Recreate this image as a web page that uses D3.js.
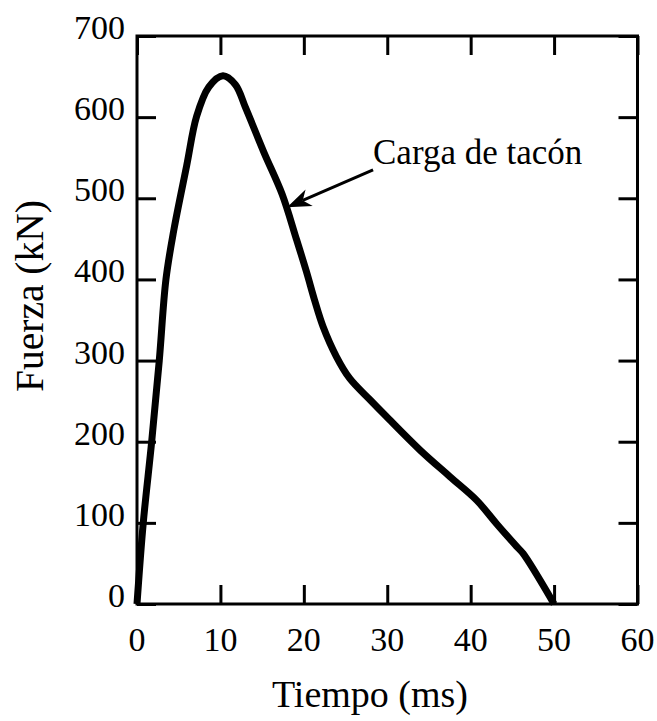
<!DOCTYPE html>
<html>
<head>
<meta charset="utf-8">
<script src="https://cdn.jsdelivr.net/npm/d3@7"></script>
<style>
  html, body { margin: 0; padding: 0; background: #fff; }
  svg { display: block; }
  text { font-family: "Liberation Serif", "Times New Roman", serif; fill: #000; }
</style>
</head>
<body>
<svg id="chart" width="657" height="721"></svg>
<script>
// ---- data ----
const timeMs = [0, 0.75, 1.76, 2.67, 3.47, 4.4, 5.95, 7.15, 8.6, 10.3, 11.8, 13.0, 15.2, 17.4, 19.1, 20.3, 21.3, 22.3, 23.9, 25.5, 27.9, 29.9, 33.9, 37.5, 40.7, 43.1, 45.5, 46.3, 50];
const forceKN = [0, 100, 200, 300, 400, 460, 540, 601, 637, 651, 640, 612, 557, 505, 450, 410, 374, 342, 305, 278, 252, 231, 190, 157, 128, 99, 71, 62, 0];
const xTicks = [0, 10, 20, 30, 40, 50, 60];
const yTicks = [0, 100, 200, 300, 400, 500, 600, 700];
const xTitle = "Tiempo (ms)";
const yTitle = "Fuerza (kN)";
const annotationText = "Carga de tacón";
const annotationTail = [28.3, 535];   // data coords (ms, kN)
const annotationTip = [18.0, 489];

(function () {
// ---- layout ----
const svg = d3.select("#chart");
const mL = 137, mR = 637.5, mT = 36, mB = 604;
const x = d3.scaleLinear().domain([0, 60]).range([mL, mR]);
const y = d3.scaleLinear().domain([0, 700]).range([mB, mT]);
const tickLen = 19;

// frame
svg.append("rect")
  .attr("x", mL).attr("y", mT)
  .attr("width", mR - mL).attr("height", mB - mT)
  .attr("fill", "none").attr("stroke", "#000").attr("stroke-width", 3);

// axes (ticks inward on all four sides)
const axB = d3.axisBottom(x).tickValues(xTicks).tickSize(-tickLen).tickFormat("");
const axT = d3.axisTop(x).tickValues(xTicks).tickSize(-tickLen).tickFormat("");
const axL = d3.axisLeft(y).tickValues(yTicks).tickSize(-tickLen).tickFormat("");
const axR = d3.axisRight(y).tickValues(yTicks).tickSize(-tickLen).tickFormat("");
[[axB, `translate(0,${mB})`], [axT, `translate(0,${mT})`], [axL, `translate(${mL},0)`], [axR, `translate(${mR},0)`]]
  .forEach(([ax, tr]) => {
    const g = svg.append("g").attr("transform", tr).call(ax);
    g.select(".domain").remove();
    g.selectAll(".tick line").attr("stroke", "#000").attr("stroke-width", 3);
  });

// tick labels
svg.append("g").selectAll("text").data(xTicks).join("text")
  .attr("x", d => x(d)).attr("y", 651)
  .attr("text-anchor", "middle").attr("font-size", 34)
  .text(d => d);
svg.append("g").selectAll("text").data(yTicks).join("text")
  .attr("x", 125).attr("y", d => y(d) + 3)
  .attr("text-anchor", "end").attr("font-size", 34)
  .text(d => d);

// axis titles
svg.append("text")
  .attr("x", 370).attr("y", 707)
  .attr("text-anchor", "middle").attr("font-size", 38)
  .text(xTitle);
svg.append("text")
  .attr("transform", `translate(43,296) rotate(-90)`)
  .attr("text-anchor", "middle").attr("font-size", 39.5)
  .text(yTitle);

// curve
const pts = timeMs.map((t, i) => [t, forceKN[i]]);
const line = d3.line().x(d => x(d[0])).y(d => y(d[1])).curve(d3.curveCatmullRom.alpha(0.5));
svg.append("path").datum(pts)
  .attr("d", line)
  .attr("fill", "none").attr("stroke", "#000")
  .attr("stroke-width", 7).attr("stroke-linejoin", "round").attr("stroke-linecap", "butt");

// annotation arrow
const tx = x(annotationTail[0]), ty = y(annotationTail[1]);
const hx = x(annotationTip[0]), hy = y(annotationTip[1]);
const ang = Math.atan2(hy - ty, hx - tx);
const headLen = 24, headW = 9, notch = 17;
const ux = Math.cos(ang), uy = Math.sin(ang), px = -uy, py = ux;
svg.append("line")
  .attr("x1", tx).attr("y1", ty)
  .attr("x2", hx - ux * notch).attr("y2", hy - uy * notch)
  .attr("stroke", "#000").attr("stroke-width", 3);
const bx = hx - ux * headLen, by = hy - uy * headLen;
const nx = hx - ux * notch, ny = hy - uy * notch;
svg.append("path")
  .attr("d", `M${hx},${hy} L${bx + px * headW},${by + py * headW} L${nx},${ny} L${bx - px * headW},${by - py * headW} Z`)
  .attr("fill", "#000");
svg.append("text")
  .attr("x", 373).attr("y", 164)
  .attr("font-size", 35)
  .text(annotationText);
})();
</script>
</body>
</html>
